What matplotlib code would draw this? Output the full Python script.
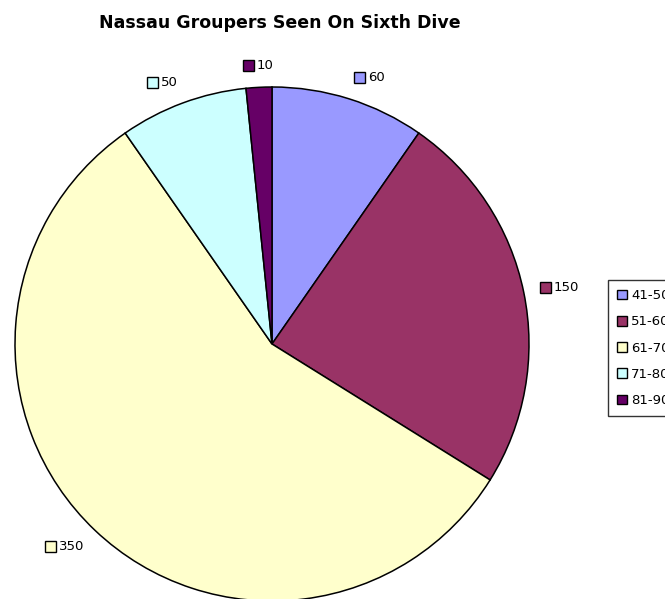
import numpy as np
import matplotlib
matplotlib.use("Agg")
import matplotlib.pyplot as plt
from matplotlib.patches import Rectangle, Patch
from matplotlib.offsetbox import HPacker, DrawingArea, TextArea, AnnotationBbox

plt.rcParams['font.family'] = ['DejaVu Sans']

title = "Nassau Groupers Seen On Sixth Dive"
categories = ['41-50', '51-60', '61-70', '71-80', '81-90']
counts = [60, 150, 350, 50, 10]
colors = ['#9999FF', '#993366', '#FFFFCC', '#CCFFFF', '#660066']

W, H = 665, 599
fig = plt.figure(figsize=(W / 100, H / 100), dpi=100)

# pie centre / radius in pixels
cx, cy, r = 272, 344, 257
ax = fig.add_axes([(cx - r) / W, (H - cy - r) / H, 2 * r / W, 2 * r / H])
wedges, _ = ax.pie(counts, colors=colors, startangle=90, counterclock=False,
                   wedgeprops=dict(edgecolor='black', linewidth=1.1))
ax.set_xlim(-1, 1)
ax.set_ylim(-1, 1)
ax.set_aspect('equal')
ax.axis('off')

# data labels: small coloured square + value, just outside the pie
for w, val, col in zip(wedges, counts, colors):
    mid = np.deg2rad((w.theta1 + w.theta2) / 2)
    x, y = 1.06 * np.cos(mid), 1.06 * np.sin(mid)
    da = DrawingArea(9, 9, 0, 0)
    da.add_artist(Rectangle((0.5, 0.5), 8, 8, facecolor=col, edgecolor='black', linewidth=1))
    ta = TextArea(str(val), textprops=dict(fontsize=9.5, color='black'))
    box = HPacker(children=[da, ta], sep=1.5, pad=0, align='center')
    if np.cos(mid) > 0.15:
        xa = 0
    elif np.cos(mid) < -0.15:
        xa = 1
    else:
        xa = 0.5
    ya = 0.5 - 0.5 * np.sin(mid)
    ab = AnnotationBbox(box, (x, y), xycoords='data', box_alignment=(xa, ya),
                        frameon=False, pad=0, annotation_clip=False)
    ax.add_artist(ab)

fig.text(280 / W, 1 - 28 / H, title, ha='center', va='baseline',
         fontsize=12.5, fontweight='bold')

handles = [Patch(facecolor=c, edgecolor='black', linewidth=1) for c in colors]
leg = fig.legend(handles, categories, loc='upper left',
                 bbox_to_anchor=(608 / W, 1 - 280 / H),
                 fontsize=9.5, frameon=True, fancybox=False,
                 handlelength=0.75, handleheight=0.75, handletextpad=0.3,
                 labelspacing=1.0, borderpad=0.7, borderaxespad=0)
leg.get_frame().set_edgecolor('black')
leg.get_frame().set_linewidth(1)

fig.savefig("out.png", dpi=100)
